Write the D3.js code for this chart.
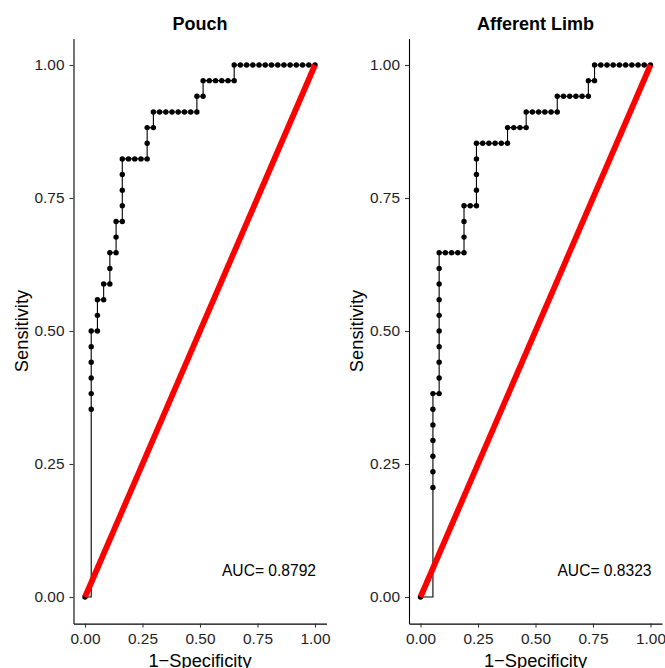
<!DOCTYPE html>
<html>
<head>
<meta charset="utf-8">
<script src="https://cdn.jsdelivr.net/npm/d3@7"></script>
<style>
  html, body { margin: 0; padding: 0; background: #fff; }
  svg { display: block; font-family: "Liberation Sans", Arial, Helvetica, sans-serif; }
</style>
</head>
<body>
<svg id="chart" width="665" height="668"></svg>
<script>
// Group sizes behind both ROC curves
const nNegative = 37;
const nPositive = 34;

const panelTitles = ["Pouch", "Afferent Limb"];

// ROC operating points as [false positives, true positives] counts
const pouchRoc = [
  [0,0],[1,12],[1,13],[1,14],[1,15],[1,16],[1,17],[2,17],[2,18],[2,19],[3,19],[3,20],
  [4,20],[4,21],[4,22],[5,22],[5,23],[5,24],[6,24],[6,25],[6,26],[6,27],[6,28],[7,28],
  [8,28],[9,28],[10,28],[10,29],[10,30],[11,30],[11,31],[12,31],[13,31],[14,31],[15,31],
  [16,31],[17,31],[18,31],[18,32],[19,32],[19,33],[20,33],[21,33],[22,33],[23,33],[24,33],
  [24,34],[25,34],[26,34],[27,34],[28,34],[29,34],[30,34],[31,34],[32,34],[33,34],[34,34],
  [35,34],[36,34],[37,34]
];

const afferentRoc = [
  [0,0],[2,7],[2,8],[2,9],[2,10],[2,11],[2,12],[2,13],[3,13],[3,14],[3,15],[3,16],[3,17],
  [3,18],[3,19],[3,20],[3,21],[3,22],[4,22],[5,22],[6,22],[7,22],[7,23],[7,24],[7,25],
  [8,25],[9,25],[9,26],[9,27],[9,28],[9,29],[10,29],[11,29],[12,29],[13,29],[14,29],
  [14,30],[15,30],[16,30],[17,30],[17,31],[18,31],[19,31],[20,31],[21,31],[22,31],[22,32],
  [23,32],[24,32],[25,32],[26,32],[27,32],[27,33],[28,33],[28,34],[29,34],[30,34],[31,34],
  [32,34],[33,34],[34,34],[35,34],[36,34],[37,34]
];

// Chance diagonal
const diagonal = [[0,0],[1,1]];

const tickValues = [0, 0.25, 0.5, 0.75, 1];
const xTitle = "1\u2212Specificity";
const yTitle = "Sensitivity";
const aucPosition = [0.8, 0.05];

const svg = d3.select("#chart");

const panels = [
  { title: panelTitles[0], roc: pouchRoc, left: 73.5 },
  { title: panelTitles[1], roc: afferentRoc, left: 409 }
];
const panelWidth = 253;
const plotTop = 38.4, plotBottom = 623.6;

function trapezoidAuc(pts) {
  let a = 0;
  for (let i = 1; i < pts.length; i++) {
    a += (pts[i].x - pts[i-1].x) * (pts[i].y + pts[i-1].y) / 2;
  }
  return a;
}

panels.forEach(p => {
  const pts = p.roc.map(([fp, tp]) => ({ x: fp / nNegative, y: tp / nPositive }));

  const x = d3.scaleLinear().domain([-0.05, 1.05]).range([p.left, p.left + panelWidth]);
  const y = d3.scaleLinear().domain([-0.05, 1.05]).range([plotBottom, plotTop]);

  const g = svg.append("g");

  // axes
  const xAxis = g.append("g")
    .attr("transform", `translate(0,${plotBottom})`)
    .call(d3.axisBottom(x).tickValues(tickValues).tickFormat(d3.format(".2f")).tickSize(4).tickPadding(5).tickSizeOuter(0));
  const yAxis = g.append("g")
    .attr("transform", `translate(${p.left},0)`)
    .call(d3.axisLeft(y).tickValues(tickValues).tickFormat(d3.format(".2f")).tickSize(4).tickPadding(5).tickSizeOuter(0));

  [xAxis, yAxis].forEach(ax => {
    ax.select(".domain").attr("stroke", "#000").attr("stroke-width", 1.1);
    ax.selectAll(".tick line").attr("stroke", "#333").attr("stroke-width", 1.1);
    ax.selectAll(".tick text").attr("fill", "#1e1e1e").style("font-size", "15.4px")
      .style("font-family", "'Liberation Sans', Arial, sans-serif");
  });

  // ROC step curve
  g.append("path")
    .datum(pts)
    .attr("fill", "none")
    .attr("stroke", "#000")
    .attr("stroke-width", 1.1)
    .attr("d", d3.line().x(d => x(d.x)).y(d => y(d.y)).curve(d3.curveStepAfter));

  g.selectAll("circle.pt")
    .data(pts)
    .join("circle")
    .attr("class", "pt")
    .attr("cx", d => x(d.x))
    .attr("cy", d => y(d.y))
    .attr("r", 2.7)
    .attr("fill", "#000");

  // reference diagonal
  g.append("path")
    .datum(diagonal)
    .attr("fill", "none")
    .attr("stroke", "#ff0000")
    .attr("stroke-width", 5.8)
    .attr("d", d3.line().x(d => x(d[0])).y(d => y(d[1])));

  // AUC annotation
  g.append("text")
    .attr("x", x(aucPosition[0]))
    .attr("y", y(aucPosition[1]))
    .attr("text-anchor", "middle")
    .attr("dominant-baseline", "central")
    .style("font-size", "15.6px")
    .attr("fill", "#000")
    .text("AUC= " + trapezoidAuc(pts).toFixed(4));

  // panel title
  g.append("text")
    .attr("x", p.left + panelWidth / 2)
    .attr("y", 30)
    .attr("text-anchor", "middle")
    .style("font-size", "18px")
    .style("font-weight", "bold")
    .attr("fill", "#000")
    .text(p.title);

  // axis titles
  g.append("text")
    .attr("x", p.left + panelWidth / 2)
    .attr("y", 666.5)
    .attr("text-anchor", "middle")
    .style("font-size", "18.3px")
    .attr("fill", "#000")
    .text(xTitle);

  g.append("text")
    .attr("transform", `translate(${p.left - 46},${(plotTop + plotBottom) / 2}) rotate(-90)`)
    .attr("text-anchor", "middle")
    .style("font-size", "18.3px")
    .attr("fill", "#000")
    .text(yTitle);
});
</script>
</body>
</html>
